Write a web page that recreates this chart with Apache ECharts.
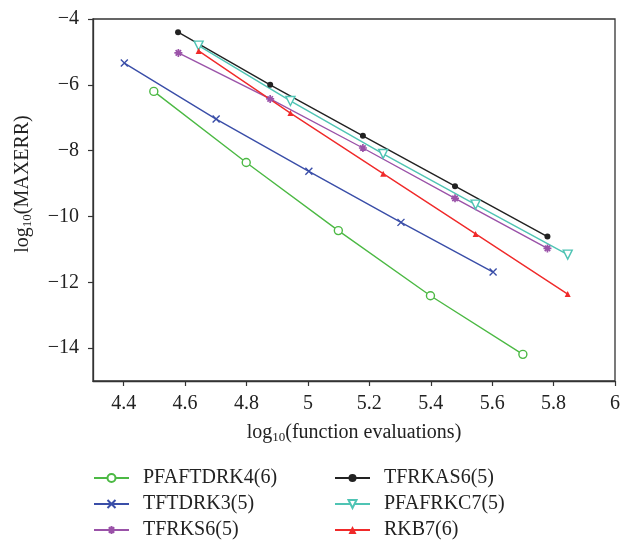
<!DOCTYPE html>
<html>
<head>
<meta charset="utf-8">
<script src="https://cdn.jsdelivr.net/npm/echarts@6/dist/echarts.min.js"></script>
<style>
  html, body { margin: 0; padding: 0; background: #fff; }
  #chart { width: 623px; height: 540px; }
</style>
</head>
<body>
<div id="chart"></div>
<script>
// Convergence data: log10(function evaluations) vs log10(MAXERR)
const names = ['PFAFTDRK4(6)', 'TFTDRK3(5)', 'TFRKS6(5)', 'TFRKAS6(5)', 'PFAFRKC7(5)', 'RKB7(6)'];

const xPFAFTDRK4 = [4.498, 4.799, 5.099, 5.399, 5.700];
const yPFAFTDRK4 = [-6.20, -8.36, -10.43, -12.41, -14.19];

const xTFTDRK3 = [4.402, 4.701, 5.003, 5.303, 5.603];
const yTFTDRK3 = [-5.34, -7.04, -8.63, -10.18, -11.69];

const xTFRKS6 = [4.578, 4.877, 5.179, 5.479, 5.780];
const yTFRKS6 = [-5.03, -6.43, -7.92, -9.45, -10.97];

const xTFRKAS6 = [4.577, 4.877, 5.179, 5.479, 5.780];
const yTFRKAS6 = [-4.40, -6.00, -7.55, -9.08, -10.61];

const xPFAFRKC7 = [4.644, 4.943, 5.245, 5.546, 5.846];
const yPFAFRKC7 = [-4.81, -6.49, -8.10, -9.64, -11.16];

const xRKB7 = [4.644, 4.943, 5.245, 5.546, 5.846];
const yRKB7 = [-4.97, -6.86, -8.70, -10.53, -12.36];

const xTicks = [4.4, 4.6, 4.8, 5.0, 5.2, 5.4, 5.6, 5.8, 6.0];
const yTicks = [-14, -12, -10, -8, -6, -4];

const zip = (xs, ys) => xs.map((x, i) => [x, ys[i]]);
const FONT = 'Liberation Serif';
const FS = 20;

const crossPath = 'path://M0,0L10,10M10,0L0,10';
const starPath = 'path://M5,0L5,10M0,5L10,5M1.6,1.6L8.4,8.4M8.4,1.6L1.6,8.4';

function lineSeries(name, xs, ys, color, symbol, size, itemStyle, extra) {
  return Object.assign({
    name: name,
    type: 'line',
    data: zip(xs, ys),
    symbol: symbol,
    symbolSize: size,
    lineStyle: { color: color, width: 1.4 },
    itemStyle: itemStyle,
    emphasis: { disabled: true },
    animation: false,
    z: 3
  }, extra || {});
}

const series = [
  lineSeries(names[0], xPFAFTDRK4, yPFAFTDRK4, '#4cb944', 'circle', 8,
    { color: '#fff', borderColor: '#4cb944', borderWidth: 1.4 }),
  lineSeries(names[1], xTFTDRK3, yTFTDRK3, '#3a4ea8', crossPath, 7,
    { color: '#3a4ea8', borderColor: '#3a4ea8', borderWidth: 1.4 }),
  lineSeries(names[2], xTFRKS6, yTFRKS6, '#9a52a8', starPath, 8,
    { color: '#9a52a8', borderColor: '#9a52a8', borderWidth: 1.7 }),
  lineSeries(names[3], xTFRKAS6, yTFRKAS6, '#222222', 'circle', 6,
    { color: '#222222' }),
  lineSeries(names[4], xPFAFRKC7, yPFAFRKC7, '#4fc4b4', 'triangle', 9,
    { color: '#fff', borderColor: '#4fc4b4', borderWidth: 1.4 }, { symbolRotate: 180 }),
  lineSeries(names[5], xRKB7, yRKB7, '#f02a2a', 'triangle', 6,
    { color: '#f02a2a' })
];

const fmtMinus = v => (v < 0 ? '\u2212' + Math.abs(v) : String(v));

const legendBase = {
  orient: 'vertical',
  top: 468,
  height: 120,
  padding: 0,
  itemWidth: 35,
  itemHeight: 10,
  itemGap: 6,
  selectedMode: false,
  textStyle: { fontFamily: FONT, fontSize: FS, color: '#222', padding: [0, 0, 0, 9] }
};

const nameRich = {
  t: { fontFamily: FONT, fontSize: FS, color: '#222' },
  s: { fontFamily: FONT, fontSize: 13, color: '#222', padding: [10, 0, 0, 0] }
};

const option = {
  backgroundColor: '#fff',
  animation: false,
  grid: {
    left: 93, top: 19, right: 6, bottom: 159,
    show: true, borderColor: '#333', borderWidth: 1.3
  },
  legend: [
    Object.assign({}, legendBase, { left: 93, data: names.slice(0, 3) }),
    Object.assign({}, legendBase, { left: 334, data: names.slice(3, 6) })
  ],
  xAxis: {
    type: 'value',
    min: 4.3,
    max: 6,
    interval: 0.1,
    name: '{t|log}{s|10}{t|(function evaluations)}',
    nameLocation: 'middle',
    nameGap: 40,
    nameTextStyle: { rich: nameRich },
    axisLine: { show: true, onZero: false, lineStyle: { color: '#333', width: 1.3 } },
    axisTick: { show: true, inside: false, length: 5, customValues: xTicks, lineStyle: { color: '#333', width: 1.2 } },
    axisLabel: {
      customValues: xTicks,
      formatter: v => String(+v.toFixed(1)),
      fontFamily: FONT, fontSize: FS, color: '#222', margin: 13
    },
    splitLine: { show: false }
  },
  yAxis: {
    type: 'value',
    min: -15,
    max: -4,
    interval: 1,
    name: '{t|log}{s|10}{t|(MAXERR)}',
    nameLocation: 'middle',
    nameGap: 59,
    nameTextStyle: { padding: [0, 0, 0, 32], rich: nameRich },
    axisLine: { show: true, onZero: false, lineStyle: { color: '#333', width: 1.3 } },
    axisTick: { show: true, inside: false, length: 5, customValues: yTicks, lineStyle: { color: '#333', width: 1.2 } },
    axisLabel: {
      customValues: yTicks,
      formatter: fmtMinus,
      fontFamily: FONT, fontSize: FS, color: '#222', margin: 14
    },
    splitLine: { show: false }
  },
  series: series
};

const chart = echarts.init(document.getElementById('chart'), null, { renderer: 'canvas' });
chart.setOption(option);
</script>
</body>
</html>
